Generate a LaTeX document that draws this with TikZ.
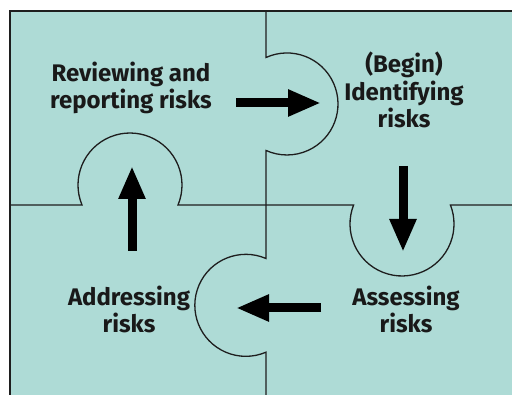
\documentclass[tikz,border=0pt]{standalone}
\usepackage{fontspec}
\setmainfont{Fira Sans}
\usepackage{tikz}
\usetikzlibrary{arrows.meta}

\definecolor{puzzle}{RGB}{174,219,214}
\definecolor{seam}{RGB}{30,30,30}

\tikzset{
  piece/.style={draw=seam,line width=1.3pt},
  stage/.style={align=center,text=black!90,inner sep=0pt,font=\fontsize{24}{27.5}\selectfont\bfseries},
  flow/.style={line width=9pt,-{Triangle[length=33pt,width=25pt]}}
}

\begin{document}
\begin{tikzpicture}[x=1pt,y=-1pt]
    \useasboundingbox (0,0) rectangle (512,395);
    \fill[puzzle] (10,11) rectangle (512,395);
    \draw[piece] (10,395) -- (10,11) -- (512,11);
    % vertical seam with its two tabs
    \draw[piece] (266,11) -- (266,57.5) arc (-114.3:114.3:51)
      -- (266,258.5) arc (-66.7:-293.3:51) -- (266,395);
    % horizontal seam with its two tabs
    \draw[piece] (10,205) -- (82,205) arc (157.4:382.6:52)
      -- (353.6,205) arc (201.4:-21.4:52) -- (512,205);

    \node[stage] (review) at (131,88) {Reviewing and\\reporting risks};
    \node[stage] (ident) at (404,90) {(Begin)\\Identifying\\risks};
    \node[stage] (assess) at (406,309.5) {Assessing\\risks};
    \node[stage] (address) at (129,309.5) {Addressing\\risks};

    \coordinate (reviewOut) at (236,103);
    \coordinate (identIn) at (321,103);
    \coordinate (identOut) at (403,166);
    \coordinate (assessIn) at (403,252);
    \coordinate (assessOut) at (321,308);
    \coordinate (addressIn) at (236,308);
    \coordinate (addressOut) at (132,251);
    \coordinate (reviewIn) at (132,166);

    \draw[flow] (reviewOut) -- (identIn);
    \draw[flow] (identOut) -- (assessIn);
    \draw[flow] (assessOut) -- (addressIn);
    \draw[flow] (addressOut) -- (reviewIn);
\end{tikzpicture}
\end{document}
